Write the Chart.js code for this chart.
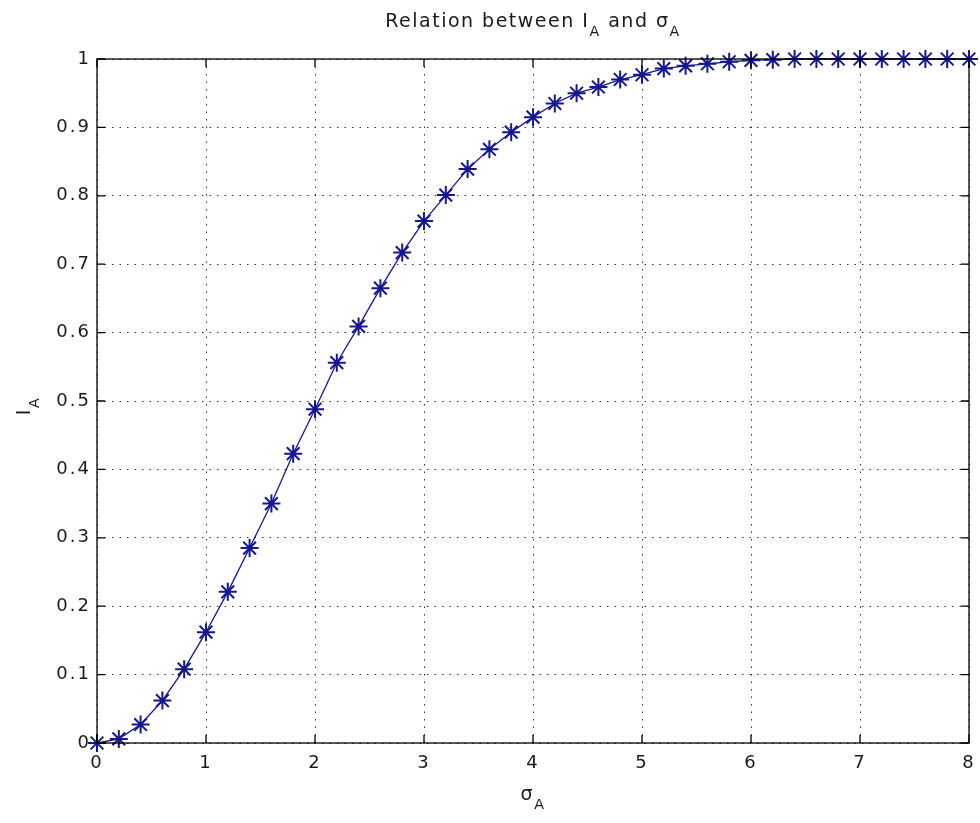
<!DOCTYPE html>
<html>
<head>
<meta charset="utf-8">
<script src="https://cdn.jsdelivr.net/npm/chart.js@4"></script>
<style>
  html, body { margin: 0; padding: 0; background: #fff; }
</style>
</head>
<body>
<canvas id="myChart" width="980" height="823"></canvas>
<script>
// sigma_A values (x) and I_A values (y)
const sigma = [0, 0.2, 0.4, 0.6, 0.8, 1.0, 1.2, 1.4, 1.6, 1.8,
  2.0, 2.2, 2.4, 2.6, 2.8, 3.0, 3.2, 3.4, 3.6, 3.8,
  4.0, 4.2, 4.4, 4.6, 4.8, 5.0, 5.2, 5.4, 5.6, 5.8,
  6.0, 6.2, 6.4, 6.6, 6.8, 7.0, 7.2, 7.4, 7.6, 7.8, 8.0];
const intensity = [0, 0.006, 0.027, 0.062, 0.108, 0.162, 0.221, 0.285, 0.350, 0.423,
  0.488, 0.556, 0.609, 0.665, 0.717, 0.763, 0.801, 0.839, 0.868, 0.893,
  0.915, 0.935, 0.950, 0.959, 0.970, 0.977, 0.986, 0.990, 0.993, 0.996,
  0.998, 0.999, 1, 1, 1, 1, 1, 1, 1, 1, 1];
const xTicks = [0, 1, 2, 3, 4, 5, 6, 7, 8];
const yTicks = [0, 0.1, 0.2, 0.3, 0.4, 0.5, 0.6, 0.7, 0.8, 0.9, 1];

const lineColor = '#16168e';
const textFont = '"DejaVu Sans", sans-serif';

// text with a subscript part, e.g. [['I', false], ['A', true]]
function drawParts(ctx, parts, x, y, size) {
  let total = 0;
  parts.forEach(p => {
    ctx.font = (p[1] ? size * 0.75 : size) + 'px ' + textFont;
    total += ctx.measureText(p[0]).width;
  });
  let cx = x - total / 2;
  ctx.textAlign = 'left';
  ctx.textBaseline = 'alphabetic';
  parts.forEach(p => {
    ctx.font = (p[1] ? size * 0.75 : size) + 'px ' + textFont;
    ctx.fillText(p[0], cx, p[1] ? y + size * 0.45 : y);
    cx += ctx.measureText(p[0]).width;
  });
}

const matlabLook = {
  id: 'matlabLook',
  beforeDraw(chart) {
    chart.ctx.letterSpacing = '2px';
  },
  afterDraw(chart) {
    const ctx = chart.ctx;
    const a = chart.chartArea;
    const xs = chart.scales.x;
    const ys = chart.scales.y;
    ctx.save();
    ctx.strokeStyle = '#000';
    ctx.lineWidth = 1.3;
    ctx.setLineDash([]);
    ctx.strokeRect(a.left, a.top, a.right - a.left, a.bottom - a.top);
    const tl = 8;
    ctx.beginPath();
    xTicks.forEach(v => {
      const px = xs.getPixelForValue(v);
      ctx.moveTo(px, a.bottom); ctx.lineTo(px, a.bottom - tl);
      ctx.moveTo(px, a.top); ctx.lineTo(px, a.top + tl);
    });
    yTicks.forEach(v => {
      const py = ys.getPixelForValue(v);
      ctx.moveTo(a.left, py); ctx.lineTo(a.left + tl, py);
      ctx.moveTo(a.right, py); ctx.lineTo(a.right - tl, py);
    });
    ctx.stroke();

    ctx.fillStyle = '#1a1a1a';
    ctx.letterSpacing = '1.5px';
    const mid = (a.left + a.right) / 2;
    drawParts(ctx, [['Relation between I', false], ['A', true], [' and σ', false], ['A', true]], mid, 27, 19);
    drawParts(ctx, [['σ', false], ['A', true]], mid, 800, 19);
    ctx.translate(30, (a.top + a.bottom) / 2 + 5);
    ctx.rotate(-Math.PI / 2);
    drawParts(ctx, [['I', false], ['A', true]], 0, 0, 19);
    ctx.restore();
  }
};

const data = {
  datasets: [{
    label: 'I_A',
    data: sigma.map((s, i) => ({ x: s, y: intensity[i] })),
    showLine: true,
    borderColor: lineColor,
    borderWidth: 1.3,
    pointStyle: 'star',
    pointRadius: 9,
    pointBorderWidth: 2,
    pointBorderColor: lineColor,
    pointBackgroundColor: lineColor,
    tension: 0
  }]
};

const config = {
  type: 'scatter',
  data: data,
  plugins: [matlabLook],
  options: {
    responsive: false,
    animation: false,
    clip: false,
    layout: { padding: { top: 59, right: 10, left: 0, bottom: 0 } },
    plugins: { legend: { display: false }, tooltip: { enabled: false } },
    scales: {
      x: {
        type: 'linear',
        min: 0,
        max: 8,
        afterBuildTicks: s => { s.ticks = xTicks.map(v => ({ value: v })); },
        afterFit: s => { s.height = 80; s.paddingLeft = 0; s.paddingRight = 0; },
        grid: { color: '#333', lineWidth: 1, drawTicks: false },
        border: { display: false, dash: [1.5, 6] },
        ticks: {
          color: '#1a1a1a',
          padding: 10,
          maxRotation: 0,
          font: { family: textFont, size: 18 },
          callback: v => String(v)
        }
      },
      y: {
        type: 'linear',
        min: 0,
        max: 1,
        afterBuildTicks: s => { s.ticks = yTicks.map(v => ({ value: v })); },
        afterFit: s => { s.width = 97; s.paddingTop = 0; s.paddingBottom = 0; },
        grid: { color: '#333', lineWidth: 1, drawTicks: false },
        border: { display: false, dash: [1.5, 6] },
        ticks: {
          color: '#1a1a1a',
          padding: 6,
          font: { family: textFont, size: 18 },
          callback: v => String(Math.round(v * 10) / 10)
        }
      }
    }
  }
};

const myChart = new Chart(document.getElementById('myChart'), config);
</script>
</body>
</html>
